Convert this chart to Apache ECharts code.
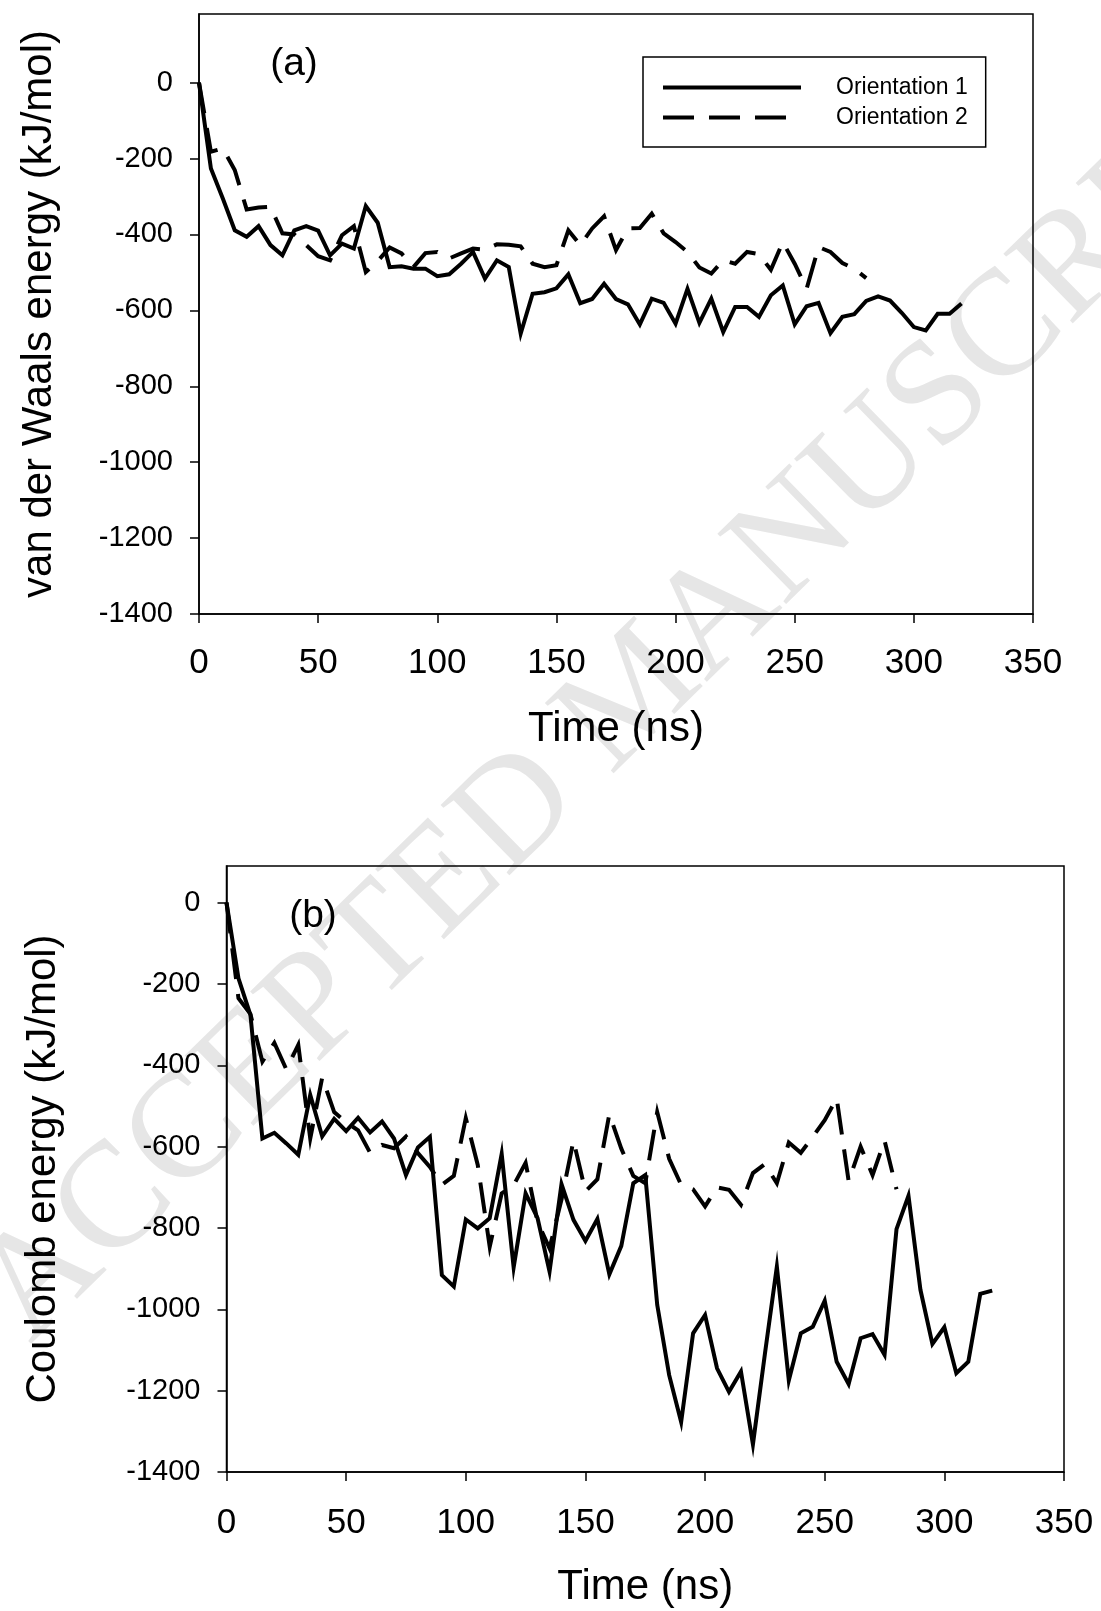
<!DOCTYPE html>
<html>
<head>
<meta charset="utf-8">
<script src="https://cdn.jsdelivr.net/npm/echarts@6.0.0/dist/echarts.min.js"></script>
<style>
  html, body { margin: 0; padding: 0; background: #fff; }
  #chart { width: 1101px; height: 1611px; }
</style>
</head>
<body>
<div id="chart"></div>
<script>
// Simulation time (ns), sampled every 5 ns
const TIME = [0, 5, 10, 15, 20, 25, 30, 35, 40, 45, 50, 55, 60, 65, 70, 75, 80, 85, 90, 95,
  100, 105, 110, 115, 120, 125, 130, 135, 140, 145, 150, 155, 160, 165, 170, 175, 180, 185, 190, 195,
  200, 205, 210, 215, 220, 225, 230, 235, 240, 245, 250, 255, 260, 265, 270, 275, 280, 285, 290, 295,
  300, 305, 310, 315, 320];

// (a) van der Waals interaction energy (kJ/mol)
const VDW_ORIENT1 = [0, -226, -305, -389, -406, -378, -428, -455, -389, -378, -390, -455, -424, -437, -325, -369,
  -486, -484, -490, -490, -510, -505, -477, -446, -516, -468, -486, -661, -556, -552, -542, -505,
  -581, -570, -530, -570, -584, -637, -569, -580, -635, -543, -633, -569, -657, -591, -591, -617,
  -560, -534, -637, -589, -580, -660, -617, -610, -575, -563, -574, -607, -644, -653, -609, -609, -582];
const VDW_ORIENT2 = [0, -182, -173, -230, -334, -329, -327, -397, -400, -428, -457, -468, -402, -378, -499, -470,
  -434, -450, -486, -449, -446, -463, -450, -437, -440, -426, -427, -431, -477, -486, -481, -389,
  -428, -384, -352, -441, -384, -383, -345, -397, -420, -446, -487, -503, -468, -477, -446, -452,
  -493, -420, -477, -543, -433, -446, -475, -490, -515];

// (b) Coulomb interaction energy (kJ/mol)
const COUL_ORIENT1 = [0, -186, -276, -580, -566, -592, -620, -473, -575, -532, -562, -529, -565, -538, -580, -670,
  -602, -576, -916, -944, -779, -801, -776, -618, -897, -715, -776, -907, -692, -780, -832, -778,
  -914, -844, -690, -670, -989, -1162, -1277, -1059, -1014, -1145, -1203, -1153, -1332, -1110, -895, -1175,
  -1059, -1043, -979, -1129, -1184, -1071, -1061, -1112, -803, -721, -952, -1085, -1044, -1157, -1129, -962, -954];
const COUL_ORIENT2 = [0, -235, -274, -391, -345, -410, -350, -580, -430, -515, -540, -560, -615, -596, -604, -575,
  -616, -650, -694, -672, -530, -645, -846, -715, -695, -640, -785, -850, -730, -585, -710, -680,
  -520, -605, -672, -690, -515, -630, -694, -705, -747, -700, -706, -743, -665, -643, -690, -590,
  -615, -576, -535, -481, -685, -600, -670, -585, -705];

const SERIES_NAMES = ['Orientation 1', 'Orientation 2'];
const Y_TICKS = [-1400, -1200, -1000, -800, -600, -400, -200, 0];

const FONT = '"Liberation Sans", Arial, Helvetica, sans-serif';
const DASH = [31, 15];
const pairs = (vals) => vals.map((v, i) => [TIME[i], v]);
const plain = (v) => String(v);

function xAxisFor(gridIndex, labelMargin) {
  return {
    type: 'value', gridIndex: gridIndex, min: 0, max: 350, interval: 50,
    name: 'Time (ns)', nameLocation: 'middle', nameGap: 94,
    nameTextStyle: { fontSize: 42, fontFamily: FONT, color: '#000' },
    axisLine: { show: true, onZero: false, lineStyle: { color: '#000', width: 1.5 } },
    axisTick: { show: true, inside: false, length: 9, lineStyle: { color: '#000', width: 1.5 } },
    axisLabel: { fontSize: 35, fontFamily: FONT, color: '#000', margin: labelMargin, formatter: plain },
    splitLine: { show: false }
  };
}

function yAxisFor(gridIndex, max, title, nameGap) {
  return {
    type: 'value', gridIndex: gridIndex, min: -1400, max: max,
    name: title, nameLocation: 'middle', nameRotate: 90, nameGap: nameGap,
    nameTextStyle: { fontSize: 42, fontFamily: FONT, color: '#000' },
    axisLine: { show: true, onZero: false, lineStyle: { color: '#000', width: 1.5 } },
    axisTick: { show: true, inside: false, length: 9, customValues: Y_TICKS,
      lineStyle: { color: '#000', width: 1.5 } },
    axisLabel: { fontSize: 29, fontFamily: FONT, color: '#000', margin: 26,
      customValues: Y_TICKS, formatter: plain },
    splitLine: { show: false }
  };
}

function lineSeries(name, xi, yi, vals, dashed) {
  return {
    type: 'line', name: name, xAxisIndex: xi, yAxisIndex: yi,
    data: pairs(vals), symbol: 'none', smooth: false, z: 5,
    lineStyle: { color: '#000', width: 4, type: dashed ? DASH : 'solid', join: 'miter', cap: 'butt' },
    itemStyle: { color: '#000' },
    emphasis: { disabled: true }
  };
}

const chart = echarts.init(document.getElementById('chart'), null, { renderer: 'canvas' });

chart.setOption({
  animation: false,
  backgroundColor: '#fff',
  grid: [
    { left: 199, top: 14, width: 834, height: 600, show: true, borderColor: '#000', borderWidth: 1.5,
      backgroundColor: 'transparent', containLabel: false },
    { left: 226.5, top: 866, width: 837.5, height: 606, show: true, borderColor: '#000', borderWidth: 1.5,
      backgroundColor: 'transparent', containLabel: false }
  ],
  xAxis: [xAxisFor(0, 32), xAxisFor(1, 34)],
  yAxis: [
    yAxisFor(0, 181, 'van der Waals energy (kJ/mol)', 139),
    yAxisFor(1, 90, 'Coulomb energy (kJ/mol)', 162)
  ],
  legend: {
    data: [
      { name: SERIES_NAMES[0], lineStyle: { width: 4, type: 'solid', color: '#000' } },
      { name: SERIES_NAMES[1], lineStyle: { width: 4, type: DASH, color: '#000' } }
    ],
    orient: 'vertical', left: 643, top: 57,
    padding: [19, 18, 18, 18],
    itemWidth: 138, itemHeight: 22, itemGap: 7,
    borderColor: '#000', borderWidth: 1.5,
    backgroundColor: '#fff',
    selectedMode: false,
    itemStyle: { opacity: 0, borderWidth: 0 },
    textStyle: { fontSize: 23, fontFamily: FONT, color: '#000', padding: [0, 0, 0, 30] }
  },
  graphic: [
    {
      type: 'text', silent: true, z: -10,
      x: 638, y: 694, rotation: 44.4 * Math.PI / 180,
      style: {
        text: 'ACCEPTED MANUSCRIPT',
        fontSize: 150, fontFamily: '"Liberation Serif", "Times New Roman", serif',
        fill: '#e6e6e6', align: 'center', verticalAlign: 'middle',
        textAlign: 'center', textVerticalAlign: 'middle'
      }
    },
    {
      type: 'text', silent: true, z: 6, x: 294, y: 64,
      style: { text: '(a)', fontSize: 39, fontFamily: FONT, fill: '#000',
        align: 'center', verticalAlign: 'middle', textAlign: 'center', textVerticalAlign: 'middle' }
    },
    {
      type: 'text', silent: true, z: 6, x: 313, y: 916,
      style: { text: '(b)', fontSize: 39, fontFamily: FONT, fill: '#000',
        align: 'center', verticalAlign: 'middle', textAlign: 'center', textVerticalAlign: 'middle' }
    }
  ],
  series: [
    lineSeries(SERIES_NAMES[0], 0, 0, VDW_ORIENT1, false),
    lineSeries(SERIES_NAMES[1], 0, 0, VDW_ORIENT2, true),
    lineSeries(SERIES_NAMES[0], 1, 1, COUL_ORIENT1, false),
    lineSeries(SERIES_NAMES[1], 1, 1, COUL_ORIENT2, true)
  ]
});
</script>
</body>
</html>
